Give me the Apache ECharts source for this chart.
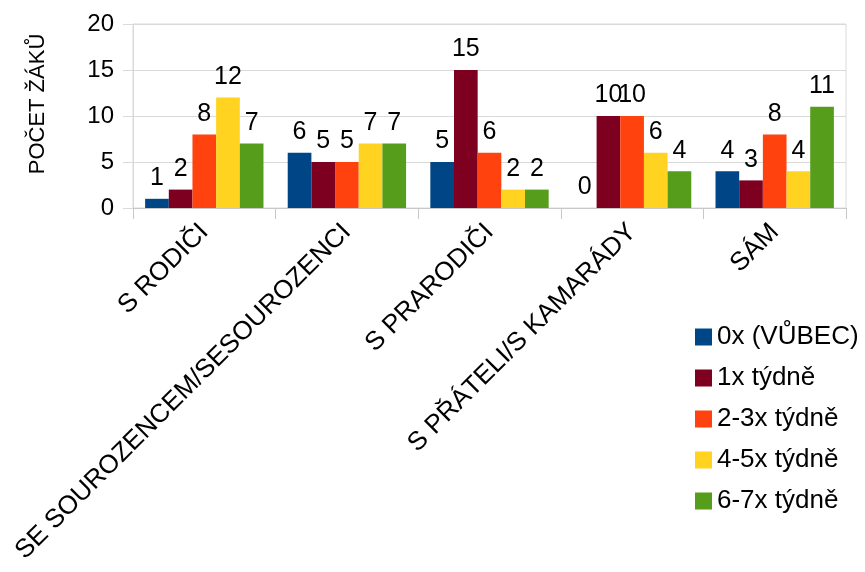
<!DOCTYPE html>
<html>
<head>
<meta charset="utf-8">
<script src="https://cdn.jsdelivr.net/npm/echarts@6/dist/echarts.min.js"></script>
<style>
  html, body { margin: 0; padding: 0; background: #fff; }
  #chart { width: 865px; height: 572px; }
</style>
</head>
<body>
<div id="chart"></div>
<script>
// kategorie a hodnoty
const categories = ['S RODIČI', 'SE SOUROZENCEM/SESOUROZENCI', 'S PRARODIČI', 'S PŘÁTELI/S KAMARÁDY', 'SÁM'];
const seriesNames = ['0x (VŮBEC)', '1x týdně', '2-3x týdně', '4-5x týdně', '6-7x týdně'];
const never = [1, 6, 5, 0, 4];
const once = [2, 5, 15, 10, 3];
const twoThree = [8, 5, 6, 10, 8];
const fourFive = [12, 7, 2, 6, 4];
const sixSeven = [7, 7, 2, 4, 11];
const colors = ['#004586', '#7e0021', '#ff420e', '#ffd320', '#579d1c'];

const chart = echarts.init(document.getElementById('chart'));
const font = 'Liberation Sans';
const dataSets = [never, once, twoThree, fourFive, sixSeven];

const option = {
    animation: false,
    textStyle: { fontFamily: font },
    grid: {
        left: 133,
        right: 19,
        top: 24,
        bottom: 364,
        show: true,
        borderColor: '#dadada',
        borderWidth: 1
    },
    legend: {
        orient: 'vertical',
        left: 690,
        top: 317,
        itemWidth: 17,
        itemHeight: 17,
        itemGap: 11,
        icon: 'rect',
        data: seriesNames,
        textStyle: { fontSize: 26, lineHeight: 30, color: '#000', fontFamily: font }
    },
    xAxis: {
        type: 'category',
        data: categories,
        axisLine: { lineStyle: { color: '#c8c8c8' } },
        axisTick: { show: true, length: 11, lineStyle: { color: '#c8c8c8' } },
        axisLabel: {
            rotate: 45,
            interval: 0,
            fontSize: 26,
            color: '#000',
            margin: 20,
            fontFamily: font
        }
    },
    yAxis: {
        type: 'value',
        min: 0,
        max: 20,
        interval: 5,
        name: 'POČET ŽÁKŮ',
        nameLocation: 'middle',
        nameGap: 84,
        nameRotate: 90,
        nameTextStyle: { fontSize: 22, color: '#000', padding: [0, 0, 0, 24], fontFamily: font },
        axisLine: { show: true, lineStyle: { color: '#dadada' } },
        axisTick: { show: true, length: 10, lineStyle: { color: '#dadada' } },
        axisLabel: { fontSize: 24, color: '#000', margin: 19, fontFamily: font },
        splitLine: { lineStyle: { color: '#dadada' } }
    },
    series: dataSets.map((d, i) => ({
        name: seriesNames[i],
        type: 'bar',
        data: d,
        barGap: '0%',
        barCategoryGap: '17%',
        itemStyle: { color: colors[i] },
        label: {
            show: true,
            position: 'top',
            distance: 8,
            fontSize: 25,
            color: '#000',
            fontFamily: font
        }
    }))
};

chart.setOption(option);
</script>
</body>
</html>
